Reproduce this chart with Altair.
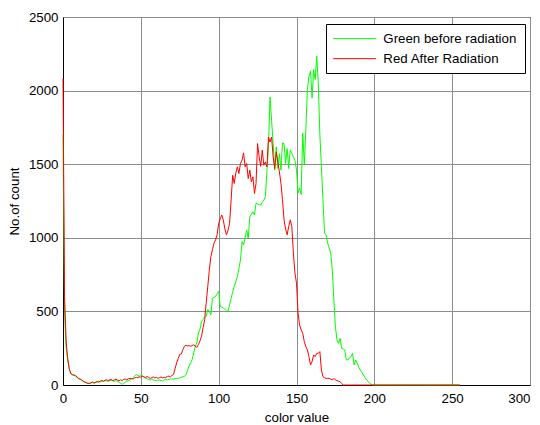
import altair as alt
import pandas as pd

# ---- data ----
x_values = list(range(256))

green = [
    1700, 500, 250, 174, 110, 83, 70, 65, 60, 50,
    45, 40, 30, 25, 20, 15, 10, 12, 15, 18,
    15, 20, 25, 20, 22, 28, 25, 30, 28, 25,
    30, 32, 28, 25, 30, 25, 20, 12, 5, 10,
    20, 25, 30, 35, 38, 50, 60, 72, 65, 60,
    68, 62, 55, 48, 42, 38, 35, 40, 35, 30,
    32, 32, 35, 30, 28, 35, 38, 35, 38, 40,
    42, 40, 44, 45, 45, 48, 53, 55, 58, 71,
    100, 128, 150, 173, 219, 263, 287, 353, 380, 432,
    445, 460, 467, 512, 500, 477, 590, 596, 602, 620,
    636, 534, 530, 523, 515, 505, 500, 545, 590, 630,
    669, 700, 737, 790, 850, 974, 951, 1000, 1053, 997,
    1143, 1160, 1177, 1155, 1234, 1230, 1225, 1222, 1240, 1256,
    1279, 1450, 1629, 1956, 1798, 1640, 1460, 1617, 1471, 1572,
    1460, 1644, 1640, 1505, 1606, 1471, 1595, 1572, 1550, 1527,
    1463, 1304, 1338, 1293, 1712, 1497, 1735, 2007, 2098, 2132,
    1950, 2143, 2075, 2234, 2052, 1700, 1485, 1259, 1032, 1020,
    964, 930, 896, 782, 578, 397, 306, 283, 317, 249,
    245, 238, 170, 170, 185, 193, 215, 136, 170, 150,
    120, 102, 85, 68, 50, 34, 25, 11, 5, 0,
    0, 0, 0, 0, 0, 0, 0, 0, 0, 0,
    0, 0, 0, 0, 0, 0, 0, 0, 0, 0,
    0, 0, 0, 0, 0, 0, 0, 0, 0, 0,
    0, 0, 0, 0, 0, 0, 0, 0, 0, 0,
    0, 0, 0, 0, 0, 0, 0, 0, 0, 0,
    0, 0, 0, 0, 0, 0,
]

red = [
    2080, 600, 300, 180, 110, 77, 70, 68, 65, 55,
    45, 40, 35, 25, 20, 15, 12, 10, 15, 20,
    12, 18, 22, 20, 28, 30, 25, 32, 35, 30,
    34, 38, 30, 35, 40, 33, 30, 35, 30, 38,
    40, 35, 42, 45, 45, 40, 48, 52, 50, 55,
    54, 60, 55, 50, 58, 52, 45, 50, 55, 48,
    52, 45, 50, 55, 48, 52, 50, 58, 60, 55,
    65, 72, 110, 150, 180, 208, 210, 240, 263, 270,
    265, 268, 263, 268, 274, 262, 256, 275, 300, 331,
    390, 444, 560, 669, 780, 872, 920, 963, 986, 1020,
    1098, 1130, 1155, 1120, 1060, 1020, 1050, 1098, 1256, 1425,
    1369, 1440, 1482, 1437, 1505, 1527, 1577, 1482, 1505, 1403,
    1460, 1380, 1414, 1301, 1369, 1640, 1550, 1486, 1595, 1493,
    1516, 1482, 1685, 1651, 1685, 1550, 1471, 1584, 1516, 1448,
    1372, 1259, 1122, 1060, 1020, 1077, 1122, 1077, 896, 760,
    692, 488, 408, 374, 351, 295, 261, 238, 193, 136,
    159, 204, 193, 215, 215, 227, 102, 57, 50, 45,
    45, 45, 40, 34, 45, 34, 30, 25, 23, 10,
    0, 0, 0, 0, 0, 0, 0, 0, 0, 0,
    0, 0, 0, 0, 0, 0, 0, 0, 0, 0,
    0, 0, 0, 0, 0, 0, 0, 0, 0, 0,
    0, 0, 0, 0, 0, 0, 0, 0, 0, 0,
    0, 0, 0, 0, 0, 0, 0, 0, 0, 0,
    0, 0, 0, 0, 0, 0, 0, 0, 0, 0,
    0, 0, 0, 0, 0, 0, 0, 0, 0, 0,
    0, 0, 0, 0, 0, 0,
]

series_names = ["Green before radiation", "Red After Radiation"]
series_colors = ["#00ff00", "#ff0000"]
x_ticks = [0, 50, 100, 150, 200, 250, 300]
y_ticks = [0, 500, 1000, 1500, 2000, 2500]

rows = []
for k, (name, vals) in enumerate(zip(series_names, [green, red])):
    for xv, yv in zip(x_values, vals):
        rows.append({"x": xv, "y": yv, "series": name, "k": k})
df = pd.DataFrame(rows)

FONT = "Liberation Sans"

chart = (
    alt.Chart(df)
    .mark_line(strokeWidth=1, interpolate="linear")
    .encode(
        x=alt.X(
            "x:Q",
            scale=alt.Scale(domain=[0, 300], nice=False, zero=False),
            axis=alt.Axis(
                values=x_ticks, format="d", title="color value",
                labelFlush=False, labelPadding=6, titlePadding=6,
                labelAlign={"condition": {"test": "datum.value == 300", "value": "right"},
                            "value": "center"},
            ),
        ),
        y=alt.Y(
            "y:Q",
            scale=alt.Scale(domain=[0, 2500], nice=False),
            axis=alt.Axis(values=y_ticks, format="d", title="No.of count",
                          labelFlush=False, labelPadding=5, titlePadding=7),
        ),
        color=alt.Color(
            "series:N",
            scale=alt.Scale(domain=series_names, range=series_colors),
            legend=alt.Legend(
                title=None,
                orient="none",
                legendX=263,
                legendY=7,
                symbolType="M-4.3,0H4.3",
                symbolSize=100,
                symbolOffset=14,
                symbolStrokeWidth=1,
                labelFont=FONT,
                labelFontSize=13.3,
                labelColor="#000",
                labelOffset=22,
                padding=8,
                rowPadding=6,
                strokeColor="#000",
                fillColor="#fff",
            ),
        ),
        order=alt.Order("k:Q"),
    )
    .properties(
        width=467,
        height=368,
        autosize=alt.AutoSizeParams(type="none"),
        padding={"left": 55, "top": 9, "right": 2, "bottom": 40},
        background="#ffffff",
    )
    .configure_view(stroke="#000", strokeWidth=1)
    .configure_axis(
        labelFont=FONT,
        labelFontSize=13.3,
        labelColor="#000",
        titleFont=FONT,
        titleFontSize=13.3,
        titleFontWeight="normal",
        titleColor="#000",
        domainColor="#000",
        ticks=False,
        grid=True,
        gridColor="#8c8c8c",
        gridWidth=1,
    )
)

chart.save("out.html", embed_options={"renderer": "svg", "actions": False})
